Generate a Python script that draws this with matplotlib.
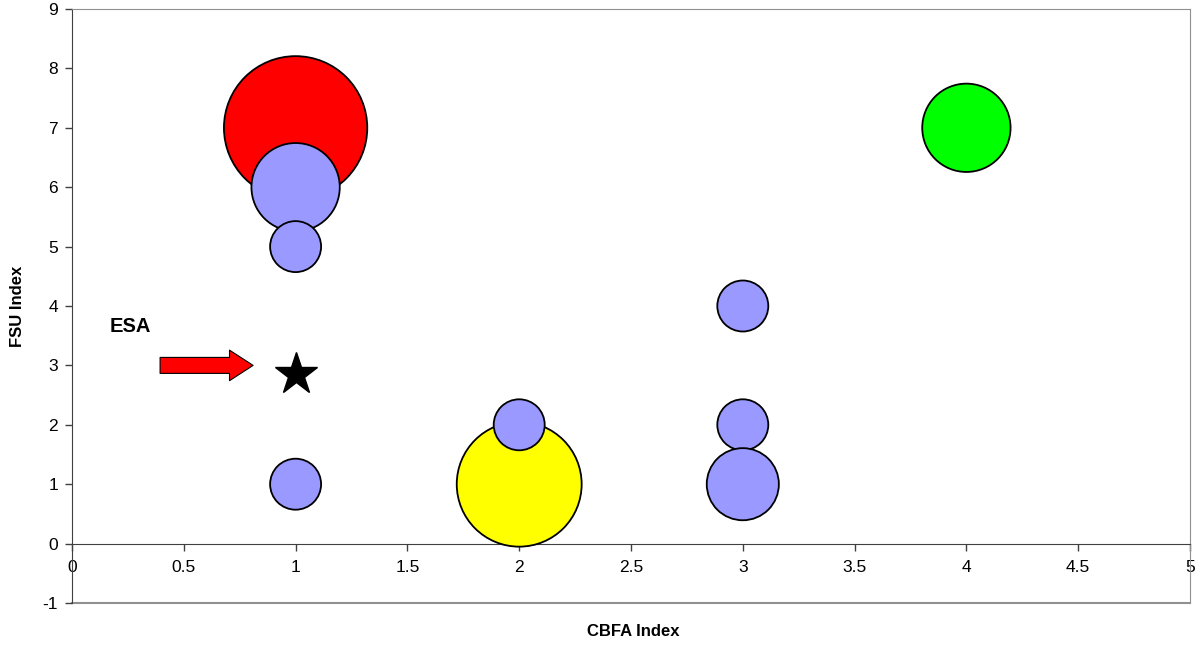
import matplotlib.pyplot as plt
from matplotlib.ticker import FuncFormatter

plt.rcParams['font.family'] = ['Liberation Sans', 'DejaVu Sans']

# bubbles (CBFA index, FSU index, bubble value)
big_x = [1, 2, 4]
big_y = [7, 1, 7]
big_val = [7.9, 6, 3]
big_col = ['#ff0000', '#ffff00', '#00ff00']

blue_x = [1, 1, 1, 2, 3, 3, 3]
blue_y = [6, 5, 1, 2, 4, 2, 1]
blue_val = [3, 1, 1, 1, 1, 1, 2]

esa_x = 1
esa_y = 2.85

x_ticks = [0, 0.5, 1, 1.5, 2, 2.5, 3, 3.5, 4, 4.5, 5]
y_ticks = [-1, 0, 1, 2, 3, 4, 5, 6, 7, 8, 9]

scale = 1348  # points^2 per bubble unit

fig = plt.figure(figsize=(12.02, 6.47), dpi=100)
ax = fig.add_axes([72/1202, 1 - 603/647, (1190-72)/1202, (603-9)/647])

ax.scatter(big_x, big_y, s=[v*scale for v in big_val], c=big_col,
           edgecolors='black', linewidths=1.3, zorder=3)
ax.scatter(blue_x, blue_y, s=[v*scale for v in blue_val], c='#9999ff',
           edgecolors='black', linewidths=1.3, zorder=4)
ax.plot([esa_x], [esa_y], marker='*', color='black', markersize=32, zorder=5)

ax.annotate('', xy=(0.81, 3.0), xytext=(0.394, 3.0),
            arrowprops=dict(arrowstyle='simple,head_length=17,head_width=22,tail_width=11.5',
                            mutation_scale=1, fc='#ff0000', ec='black', lw=0.8,
                            shrinkA=0, shrinkB=0), zorder=5)
ax.text(0.17, 3.65, 'ESA', fontsize=14.5, fontweight='bold', va='center', ha='left')

ax.set_xlim(0, 5)
ax.set_ylim(-1, 9)
ax.set_xticks(x_ticks)
ax.set_yticks(y_ticks)
ax.xaxis.set_major_formatter(FuncFormatter(lambda v, p: '%g' % v))
ax.yaxis.set_major_formatter(FuncFormatter(lambda v, p: '%g' % v))
ax.tick_params(axis='both', labelsize=12.5, direction='out', length=5, width=1, color='#404040')
ax.tick_params(axis='x', pad=7)
ax.tick_params(axis='y', pad=5)

ax.spines['bottom'].set_position(('data', 0))
ax.spines['bottom'].set_color('#404040')
ax.spines['left'].set_color('#404040')
ax.spines['top'].set_color('#909090')
ax.spines['right'].set_color('#909090')
ax.axhline(-1, color='#909090', lw=1.5, zorder=1, clip_on=False)

fig.text(633/1202, 1 - 632/647, 'CBFA Index', fontsize=12, fontweight='bold', ha='center', va='center')
fig.text(18/1202, 1 - 306/647, 'FSU Index', fontsize=12, fontweight='bold', ha='center', va='center',
         rotation=90)

fig.savefig('out.png', dpi=100)
